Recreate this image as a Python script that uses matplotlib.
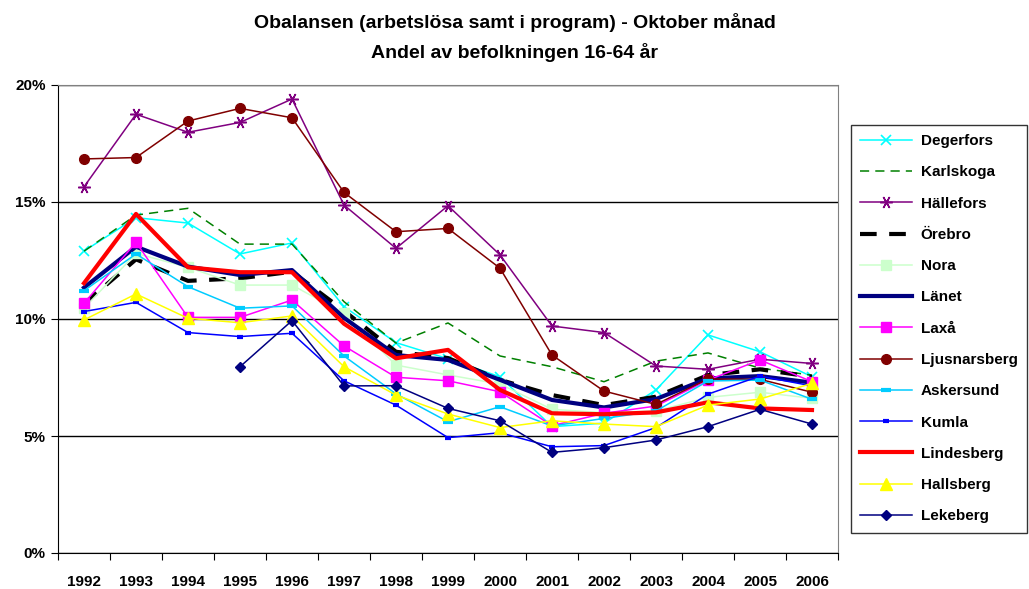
import numpy as np
import matplotlib
matplotlib.use("Agg")
import matplotlib.pyplot as plt
from matplotlib.ticker import FixedLocator, FuncFormatter

plt.rcParams['font.family'] = ['Liberation Sans', 'DejaVu Sans']

# --- data (andel av befolkningen 16-64 år, %) ---
years = [str(y) for y in range(1992, 2007)]

degerfors = [12.9, 14.33, 14.1, 12.78, 13.25, 10.53, 8.99, 8.3, 7.53, 5.4, 5.55, 6.97, 9.32, 8.6, 7.53]
karlskoga = [12.9, 14.44, 14.73, 13.2, 13.2, 10.74, 8.97, 9.83, 8.42, 7.96, 7.32, 8.2, 8.55, 7.9, 7.6]
hallefors = [15.65, 18.75, 17.98, 18.4, 19.4, 14.87, 13.02, 14.84, 12.74, 9.7, 9.42, 7.99, 7.85, 8.28, 8.1]
orebro = [10.65, 12.55, 11.63, 11.74, 12.02, 10.35, 8.6, 8.33, 7.4, 6.75, 6.32, 6.68, 7.6, 7.85, 7.53]
nora = [10.46, 12.8, 12.21, 11.45, 11.45, 10.24, 8.03, 7.61, 7.22, 6.14, 6.0, 6.07, 6.65, 6.87, 6.61]
lanet = [11.34, 13.09, 12.24, 11.88, 12.09, 10.05, 8.46, 8.25, 7.4, 6.54, 6.22, 6.58, 7.46, 7.56, 7.28]
laxa = [10.67, 13.28, 10.07, 10.07, 10.81, 8.85, 7.51, 7.36, 6.89, 5.44, 5.97, 6.28, 7.39, 8.25, 7.32]
ljusnarsberg = [16.84, 16.9, 18.46, 19.0, 18.6, 15.41, 13.73, 13.87, 12.17, 8.46, 6.92, 6.35, 7.44, 7.42, 6.87]
askersund = [11.21, 12.78, 11.38, 10.46, 10.56, 8.42, 6.8, 5.61, 6.25, 5.43, 5.75, 6.07, 7.35, 7.39, 6.57]
kumla = [10.32, 10.71, 9.42, 9.25, 9.39, 7.36, 6.32, 4.93, 5.14, 4.54, 4.59, 5.36, 6.79, 7.56, 7.14]
lindesberg = [11.53, 14.49, 12.21, 12.0, 12.0, 9.8, 8.32, 8.68, 6.97, 5.97, 5.93, 6.01, 6.44, 6.18, 6.11]
hallsberg = [9.96, 11.07, 10.03, 9.84, 10.13, 7.96, 6.75, 5.94, 5.36, 5.65, 5.51, 5.4, 6.32, 6.58, 7.25]
lekeberg = [np.nan, np.nan, np.nan, 7.96, 9.93, 7.14, 7.15, 6.18, 5.65, 4.3, 4.5, 4.83, 5.4, 6.14, 5.51]

# name, values, style
series = [
    ("Degerfors", degerfors, dict(color='#00FFFF', lw=1.1, marker='x', ms=7, mew=1.2)),
    ("Karlskoga", karlskoga, dict(color='#008000', lw=1.1, ls=(0, (6, 4)))),
    ("Hällefors", hallefors, dict(color='#800080', lw=1.1, marker=(6, 2, 90), ms=9, mew=1.1)),
    ("Örebro", orebro, dict(color='black', lw=3, ls=(0, (4, 3)))),
    ("Nora", nora, dict(color='#CCFFCC', lw=1.1, marker='s', ms=7)),
    ("Länet", lanet, dict(color='#000080', lw=3)),
    ("Laxå", laxa, dict(color='#FF00FF', lw=1.1, marker='s', ms=7)),
    ("Ljusnarsberg", ljusnarsberg, dict(color='#800000', lw=1.1, marker='o', ms=7)),
    ("Askersund", askersund, dict(color='#00CCFF', lw=1.1, marker='_', ms=7, mew=3)),
    ("Kumla", kumla, dict(color='#0000FF', lw=1.1, marker='_', ms=4, mew=3)),
    ("Lindesberg", lindesberg, dict(color='#FF0000', lw=3)),
    ("Hallsberg", hallsberg, dict(color='#FFFF00', lw=1.1, marker='^', ms=8)),
    ("Lekeberg", lekeberg, dict(color='#000080', lw=1.1, marker='D', ms=5)),
]

fig = plt.figure(figsize=(10.29, 5.89), dpi=100)
ax = fig.add_axes([58 / 1029, 36 / 589, 780 / 1029, 468 / 589])

x = np.arange(len(years))
for name, vals, st in series:
    ax.plot(x, vals, label=name, **st)

ax.set_xlim(-0.5, len(years) - 0.5)
ax.set_ylim(0, 20)

# y axis
ax.set_yticks([0, 5, 10, 15, 20])
ax.yaxis.set_major_formatter(FuncFormatter(lambda v, p: f"{v:.0f}%"))
ax.tick_params(axis='y', direction='out', length=5, pad=4, labelsize=11)
for lab in ax.get_yticklabels():
    lab.set_fontweight('bold')
ax.grid(axis='y', color='black', lw=1)
ax.set_axisbelow(True)

# x axis: ticks between categories, labels centered
ax.xaxis.set_major_locator(FixedLocator(np.arange(-0.5, len(years), 1.0)))
ax.xaxis.set_minor_locator(FixedLocator(x))
ax.set_xticklabels([])
ax.set_xticklabels(years, minor=True, fontweight='bold', fontsize=11)
ax.tick_params(axis='x', which='major', direction='out', length=5)
ax.tick_params(axis='x', which='minor', length=0, pad=16)

for s in ['left', 'bottom']:
    ax.spines[s].set_color('black')
ax.spines['top'].set_color('#808080')
ax.spines['right'].set_color('#808080')

fig.text(0.5, 1 - 22 / 589, "Obalansen (arbetslösa samt i program) - Oktober månad",
         ha='center', va='center', fontsize=14, fontweight='bold')
fig.text(0.5, 1 - 53 / 589, "Andel av befolkningen 16-64 år",
         ha='center', va='center', fontsize=14, fontweight='bold')

leg = fig.legend(loc='upper left', bbox_to_anchor=(851 / 1029, 1 - 125 / 589),
                 borderaxespad=0, frameon=True, fancybox=False, edgecolor='black',
                 prop={'weight': 'bold', 'size': 11}, handlelength=3.4,
                 labelspacing=1.13, borderpad=0.6, handletextpad=0.55)
leg.get_frame().set_linewidth(1)

fig.savefig("out.png", dpi=100)
